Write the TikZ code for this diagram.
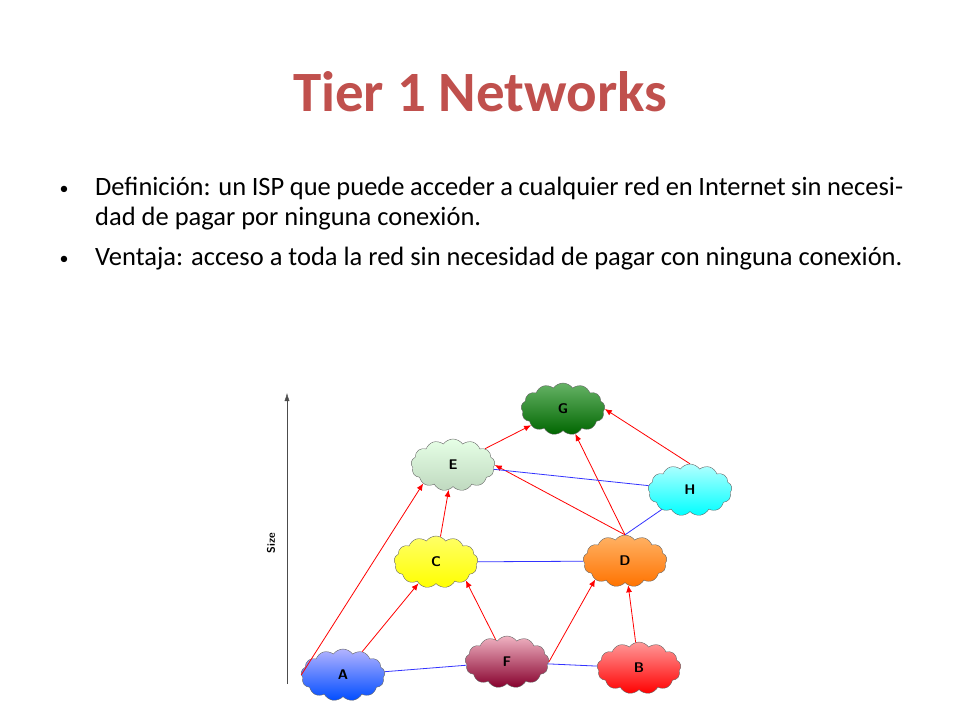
\documentclass[tikz,border=0pt]{standalone}
\usepackage{fontspec}
\setmainfont{Carlito}
\usetikzlibrary{shapes.symbols,arrows.meta}
\definecolor{titlered}{RGB}{192,80,77}

\tikzset{
  isp/.style={cloud, cloud puffs=13, cloud puff arc=110, aspect=1.7, draw=black!60,
    minimum width=84pt, minimum height=52pt, inner sep=0pt,
    font=\fontsize{14}{14}\selectfont\sffamily\bfseries},
    % \sffamily is Latin Modern Sans here
  pays/.style={red, line width=0.8pt, -{Latex[length=7pt,width=6pt]}},
  peer/.style={blue!80, line width=0.8pt},
}

\begin{document}
\begin{tikzpicture}[x=1pt,y=-1pt]
    \useasboundingbox (0,0) rectangle (960,720);
    \node[font=\fontsize{57}{57}\selectfont\bfseries, text=titlered] (title) at (480,92) {Tier 1 Networks};
    \node[anchor=north west, inner sep=0pt, text width=808pt, align=justify, font=\fontsize{26.5}{30}\selectfont] (def) at (95,177)
      {Definición: un ISP que puede acceder a cualquier red en Internet sin necesidad de pagar por ninguna conexión.};
    \node[anchor=north west, inner sep=0pt, text width=808pt, align=justify, font=\fontsize{26.5}{30}\selectfont] (ven) at (95,247)
      {Ventaja: acceso a toda la red sin necesidad de pagar con ninguna conexión.};
    \node[font=\fontsize{18}{30}\selectfont] (b1) at (64,190) {•};
    \node[font=\fontsize{18}{30}\selectfont] (b2) at (64,260) {•};
    % size axis
    \coordinate (lo) at (287,684);
    \coordinate (hi) at (287,393);
    \draw[black!70, -{Latex[length=8pt,width=5pt]}] (lo) -- (hi);
    \node[rotate=90, font=\fontsize{11}{11}\selectfont\sffamily\bfseries] (size) at (271,543) {Size};
    % clouds
    \node[isp, top color=green!50!black!60, bottom color=green!40!black] (G) at (563,409) {G};
    \node[isp, top color=green!10, bottom color=green!25!gray!40] (E) at (453,465) {E};
    \node[isp, top color=cyan!30, bottom color=cyan] (H) at (690,490) {H};
    \node[isp, top color=yellow!60, bottom color=yellow] (C) at (436,562) {C};
    \node[isp, top color=orange!60, bottom color=orange!90!red] (D) at (625,561) {D};
    \node[isp, top color=blue!30, bottom color=blue!70!cyan] (A) at (343,675) {A};
    \node[isp, top color=violet!40!red!30, bottom color=violet!50!red!70!black] (F) at (507,662) {F};
    \node[isp, top color=red!40, bottom color=red] (B) at (639,668) {B};
    % transit
    \draw[pays] (A.west) -- (E.south west);
    \draw[pays] (A) -- (C);
    \draw[pays] (C) -- (E);
    \draw[pays] (E) -- (G);
    \draw[pays] (F) -- (C.south east);
    \draw[pays] (F.east) -- (D.south west);
    \draw[pays] (B) -- (D);
    \draw[pays] (D.north) -- (E.east);
    \draw[pays] (D.north) -- (G);
    \draw[pays] (H.north) -- (G.east);
    % peering
    \draw[peer] (A) -- (F);
    \draw[peer] (F) -- (B);
    \draw[peer] (C) -- (D);
    \draw[peer] (E) -- (H);
    \draw[peer] (D.north) -- (H);
\end{tikzpicture}
\end{document}
